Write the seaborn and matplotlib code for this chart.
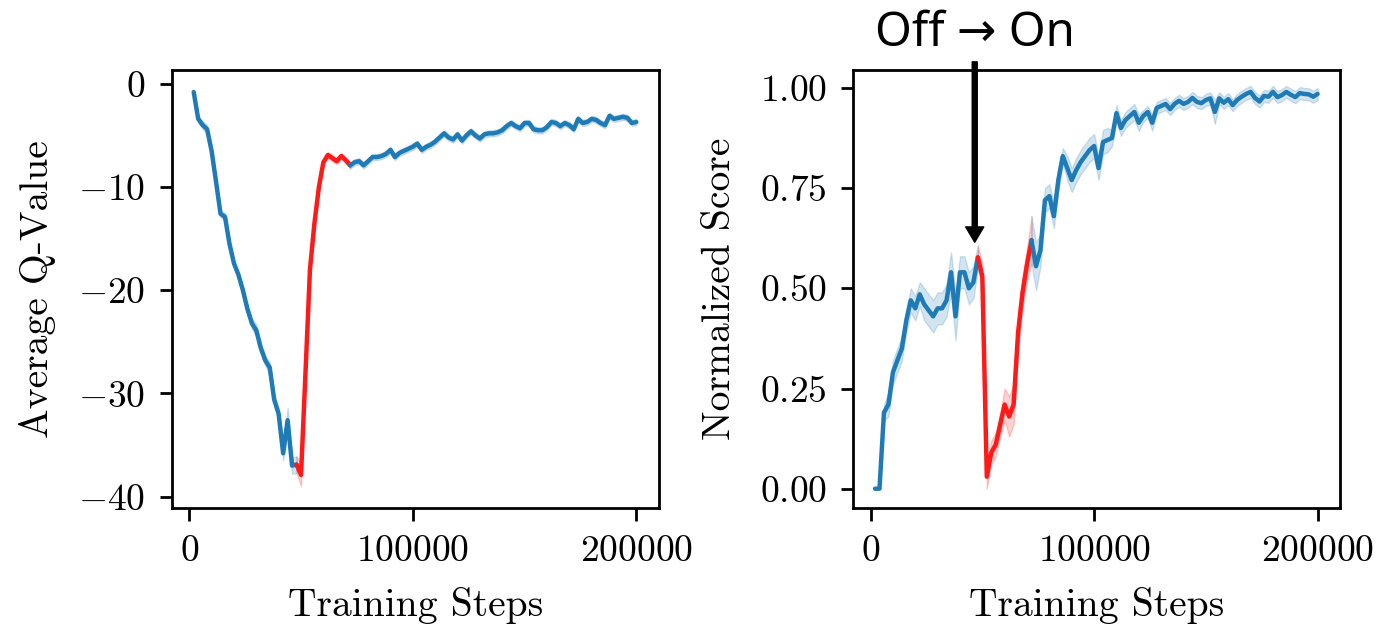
import numpy as np
import pandas as pd
import matplotlib
matplotlib.use("Agg")
import matplotlib.pyplot as plt
import seaborn as sns

sns.set_theme(style="ticks")
plt.rcParams["font.family"] = ["cmr10"]
plt.rcParams["mathtext.fontset"] = "cm"
plt.rcParams["axes.formatter.use_mathtext"] = True
plt.rcParams["text.color"] = "black"
plt.rcParams["axes.labelcolor"] = "black"
plt.rcParams["xtick.color"] = "black"
plt.rcParams["ytick.color"] = "black"

# training steps (one point every 2000 steps)
steps = list(range(2000, 200001, 2000))

# offline -> online switch window
on_start = 48000
on_end = 72000

# left panel: average Q-value
q_value = [
    -0.8, -3.4, -4.0, -4.4, -6.5, -9.5, -12.6, -12.9, -15.5, -17.4,
    -18.5, -20.0, -21.8, -23.2, -23.9, -25.6, -26.8, -27.5, -30.6, -32.0,
    -35.8, -32.6, -37.0, -36.9, -37.9, -28.0, -18.0, -13.5, -10.0, -7.6,
    -6.9, -7.2, -7.5, -7.0, -7.4, -7.9, -7.6, -7.5, -7.9, -7.5,
    -7.1, -7.1, -7.0, -6.8, -6.4, -7.1, -6.7, -6.5, -6.3, -6.1,
    -5.8, -6.4, -6.1, -5.9, -5.6, -5.2, -4.8, -5.2, -5.4, -4.9,
    -5.5, -5.0, -4.6, -5.0, -5.3, -4.9, -4.8, -4.8, -4.7, -4.5,
    -4.1, -3.8, -4.1, -4.3, -3.8, -3.8, -4.4, -4.5, -4.5, -4.2,
    -3.7, -3.8, -4.1, -3.8, -4.0, -4.4, -3.4, -3.8, -3.7, -3.4,
    -3.5, -3.8, -4.0, -3.1, -3.4, -3.3, -3.2, -3.3, -3.8, -3.7,
]
q_band = [
    0.2, 0.3, 0.4, 0.4, 0.3, 0.3, 0.3, 0.4, 0.3, 0.3,
    0.3, 0.3, 0.4, 0.5, 0.6, 0.5, 0.5, 0.5, 0.5, 0.6,
    0.7, 1.2, 0.8, 0.8, 1.1, 0.6, 0.4, 0.3, 0.3, 0.3,
    0.3, 0.3, 0.3, 0.3, 0.3, 0.3, 0.3, 0.3, 0.3, 0.3,
    0.3, 0.3, 0.3, 0.3, 0.3, 0.3, 0.3, 0.3, 0.3, 0.3,
    0.3, 0.3, 0.3, 0.3, 0.3, 0.3, 0.3, 0.3, 0.3, 0.3,
    0.3, 0.3, 0.3, 0.3, 0.3, 0.3, 0.3, 0.3, 0.3, 0.3,
    0.3, 0.3, 0.3, 0.3, 0.3, 0.3, 0.3, 0.3, 0.3, 0.3,
    0.3, 0.3, 0.3, 0.3, 0.3, 0.3, 0.3, 0.3, 0.3, 0.3,
    0.3, 0.3, 0.3, 0.3, 0.3, 0.3, 0.3, 0.3, 0.3, 0.3,
]

# right panel: normalized score
score = [
    0.00, 0.00, 0.19, 0.21, 0.29, 0.32, 0.35, 0.42, 0.47, 0.45,
    0.485, 0.46, 0.445, 0.43, 0.45, 0.45, 0.47, 0.54, 0.43, 0.54,
    0.54, 0.50, 0.515, 0.577, 0.53, 0.03, 0.09, 0.11, 0.16, 0.21,
    0.18, 0.21, 0.39, 0.49, 0.56, 0.62, 0.555, 0.595, 0.72, 0.73,
    0.68, 0.77, 0.83, 0.80, 0.77, 0.795, 0.815, 0.83, 0.845, 0.855,
    0.80, 0.865, 0.87, 0.875, 0.937, 0.90, 0.92, 0.93, 0.94, 0.913,
    0.93, 0.94, 0.913, 0.95, 0.955, 0.96, 0.947, 0.96, 0.968, 0.96,
    0.965, 0.975, 0.965, 0.962, 0.97, 0.974, 0.94, 0.974, 0.963, 0.972,
    0.957, 0.97, 0.978, 0.985, 0.99, 0.975, 0.966, 0.98, 0.978, 0.99,
    0.977, 0.982, 0.99, 0.983, 0.977, 0.987, 0.985, 0.984, 0.978, 0.985,
]
score_band = [
    0.0, 0.0, 0.02, 0.03, 0.03, 0.03, 0.03, 0.03, 0.03, 0.03,
    0.03, 0.04, 0.04, 0.04, 0.04, 0.04, 0.04, 0.05, 0.06, 0.04,
    0.04, 0.04, 0.04, 0.03, 0.03, 0.03, 0.03, 0.03, 0.03, 0.04,
    0.05, 0.05, 0.05, 0.04, 0.04, 0.06, 0.06, 0.04, 0.03, 0.03,
    0.03, 0.03, 0.02, 0.03, 0.03, 0.03, 0.03, 0.03, 0.03, 0.03,
    0.03, 0.03, 0.03, 0.02, 0.02, 0.02, 0.02, 0.02, 0.02, 0.02,
    0.015, 0.015, 0.02, 0.015, 0.015, 0.015, 0.015, 0.015, 0.015, 0.015,
    0.015, 0.015, 0.015, 0.015, 0.015, 0.015, 0.03, 0.015, 0.015, 0.015,
    0.015, 0.015, 0.015, 0.015, 0.015, 0.015, 0.015, 0.015, 0.015, 0.015,
    0.015, 0.015, 0.015, 0.015, 0.015, 0.015, 0.015, 0.015, 0.015, 0.015,
]

blue = "#1f7bb6"
red = "#ff1a1a"


def long_form(values, band):
    # three rows per step so the band spans value +/- band
    rows = []
    for s, v, b in zip(steps, values, band):
        rows += [(s, v - b), (s, v), (s, v + b)]
    return pd.DataFrame(rows, columns=["step", "value"])


def draw(ax, values, band):
    df = long_form(values, band)
    parts = [
        (df[df.step <= on_start], blue),
        (df[(df.step >= on_start) & (df.step <= on_end)], red),
        (df[df.step >= on_end], blue),
    ]
    for part, c in parts:
        sns.lineplot(data=part, x="step", y="value", ax=ax, color=c,
                     errorbar=("pi", 100), linewidth=3.2)


fig, (ax1, ax2) = plt.subplots(1, 2, figsize=(13.84, 6.24), dpi=100)
fig.subplots_adjust(left=0.1243, right=0.9682, bottom=0.186, top=0.888, wspace=0.40)

draw(ax1, q_value, q_band)
draw(ax2, score, score_band)

ax1.set_ylabel("Average Q-Value", fontsize=28.5, labelpad=16)
ax2.set_ylabel("Normalized Score", fontsize=28.5, labelpad=16)
ax1.set_yticks([0, -10, -20, -30, -40])
ax2.set_yticks([0.0, 0.25, 0.5, 0.75, 1.0])
ax1.set_ylim(-41.1, 1.35)
ax2.set_ylim(-0.048, 1.045)

for ax in (ax1, ax2):
    ax.set_xlabel("Training Steps", fontsize=28.5, labelpad=14)
    ax.set_xticks([0, 100000, 200000])
    ax.set_xlim(-7700, 210000)
    ax.tick_params(labelsize=27, length=9, width=2.0, pad=10, color="black")
    for sp in ax.spines.values():
        sp.set_visible(True)
        sp.set_linewidth(2.0)
        sp.set_color("black")

# switch marker
ax2.annotate("", xy=(46600, 0.615), xytext=(46600, 1.065),
             xycoords="data", textcoords="data", annotation_clip=False,
             arrowprops=dict(facecolor="black", edgecolor="black", width=3.6,
                             headwidth=13, headlength=11, shrink=0))
ax2.text(46600, 1.135, "Off \u2192 On", ha="center", va="center", color="black",
         fontsize=34, family=["Noto Sans", "DejaVu Sans"], clip_on=False)

fig.savefig("out.png", dpi=100)
